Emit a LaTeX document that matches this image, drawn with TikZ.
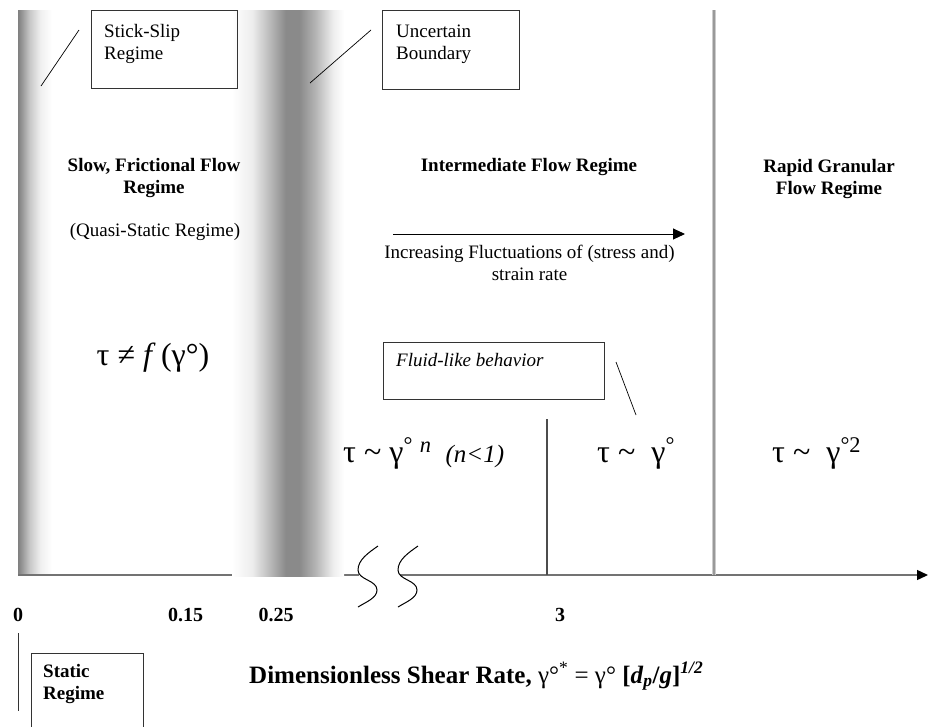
\documentclass[tikz,border=0pt]{standalone}
\usepackage{fontspec}
\setmainfont{Liberation Serif}
\usetikzlibrary{arrows.meta}
\definecolor{sA}{gray}{0.50}
\definecolor{sB}{gray}{0.56}
\definecolor{sC}{gray}{0.78}
\definecolor{sD}{gray}{0.94}
\definecolor{sE}{gray}{1}
\definecolor{sF}{gray}{0.54}
\definecolor{sG}{gray}{0.93}
\definecolor{sH}{gray}{0.70}
\definecolor{axisgray}{gray}{0.45}
\definecolor{boxgray}{gray}{0.20}
\definecolor{sepgray}{gray}{0.60}
\definecolor{seplight}{gray}{0.80}
\pgfdeclarehorizontalshading{bandone}{100bp}{color(0bp)=(sA); color(25bp)=(sA); color(29bp)=(sB); color(42bp)=(sC); color(58bp)=(sD); color(75bp)=(sE); color(100bp)=(sE)}
\pgfdeclarehorizontalshading{bandtwo}{100bp}{color(0bp)=(sE); color(25bp)=(sE); color(34bp)=(sG); color(43bp)=(sH); color(49bp)=(sF); color(55bp)=(sF); color(62bp)=(sH); color(70bp)=(sG); color(75bp)=(sE); color(100bp)=(sE)}
\newcommand{\tlc}[2]{\vtop{\halign{\hfil##\hfil\cr#1\cr#2\cr}}}
\newcommand{\tll}[2]{\vtop{\halign{##\hfil\cr#1\cr#2\cr}}}
\begin{document}
\begin{tikzpicture}[x=1pt,y=-1pt,
  txt/.style={inner sep=0pt, font=\fontsize{19}{22}\selectfont},
  btxt/.style={inner sep=0pt, font=\fontsize{19}{22}\selectfont\bfseries},
  itxt/.style={inner sep=0pt, font=\fontsize{19}{22}\selectfont\itshape},
  frm/.style={inner sep=0pt, font=\fontsize{32}{36}\selectfont},
  boxst/.style={draw=boxgray, line width=0.9pt, inner sep=0pt, anchor=north west},
  lead/.style={draw=black, line width=0.7pt},
  axnum/.style={inner sep=0pt, font=\fontsize{20}{24}\selectfont\bfseries, anchor=base},
  breakline/.style={draw=black, line width=1pt},
  axisline/.style={draw=axisgray, line width=1.4pt}
]
\useasboundingbox (0,0) rectangle (929,726);
\clip (0,0) rectangle (929,726);

% shaded bands
\shade[shading=bandone] (18,10) rectangle (52,574);
% axis
\coordinate (ax0) at (18,575);
\coordinate (axb1) at (232,575);
\coordinate (axb2) at (344,575);
\coordinate (axs1) at (359,575);
\coordinate (axs2) at (400,575);
\coordinate (axend) at (928,575);
\draw[axisline] (ax0) -- (axb1);
\draw[axisline] (axb2) -- (axs1);
\draw[axisline, -{Triangle[length=11pt,width=10pt,color=black]}] (axs2) -- (axend);
\shade[shading=bandtwo] (232,10) rectangle (344,576.5);

% break marks
\foreach \dx in {0,40}{
  \draw[breakline, xshift=\dx pt] (378,546) .. controls (368,553) and (358,560) .. (358,570)
     .. controls (358,580) and (377,580) .. (377,590)
     .. controls (377,598) and (366,602) .. (358,607);
}

% separator lines
\coordinate (sepT) at (714,10);
\coordinate (sepB) at (714,575);
\draw[draw=seplight, line width=4pt] (sepT) -- (sepB);
\draw[draw=sepgray, line width=2pt] (sepT) -- (sepB);
\coordinate (thinT) at (547,419);
\coordinate (thinB) at (547,575);
\draw[draw=black!70, line width=1.1pt] (thinT) -- (thinB);

% boxes
\node[boxst, minimum width=146pt, minimum height=78pt] (stickbox) at (91,10) {};
\node[txt, anchor=base west] (sticktxt) at (104,37) {\tll{Stick-Slip}{Regime}};
\node[boxst, minimum width=137pt, minimum height=79pt] (uncbox) at (382,10) {};
\node[txt, anchor=base west] (unctxt) at (396,37) {\tll{Uncertain}{Boundary}};
\node[boxst, minimum width=221pt, minimum height=57pt] (fluidbox) at (383,342) {};
\node[itxt, anchor=base west] (fluidtxt) at (396,366) {Fluid-like behavior};
\node[boxst, minimum width=112pt, minimum height=100pt] (statbox) at (31,653) {};
\node[btxt, anchor=base west] (stattxt) at (43,677) {\tll{Static}{Regime}};

% leader lines
\coordinate (l1a) at (41,86); \coordinate (l1b) at (79,30);
\draw[lead] (l1a) -- (l1b);
\coordinate (l2a) at (310,83); \coordinate (l2b) at (371,30);
\draw[lead] (l2a) -- (l2b);
\coordinate (l3a) at (616,362); \coordinate (l3b) at (636,415);
\draw[lead] (l3a) -- (l3b);
\coordinate (l4a) at (18,633); \coordinate (l4b) at (18,711);
\draw[draw=black!80, line width=1pt] (l4a) -- (l4b);

% regime titles
\node[btxt, anchor=base] (slow) at (154,171) {\tlc{Slow, Frictional Flow}{Regime}};
\node[txt, anchor=base] (quasi) at (155,236) {(Quasi-Static Regime)};
\node[btxt, anchor=base] (inter) at (529,171) {Intermediate Flow Regime};
\node[btxt, anchor=base] (rapid) at (829,172) {\tlc{Rapid Granular}{Flow Regime}};

% fluctuation arrow
\coordinate (arrA) at (393,234);
\coordinate (arrB) at (685,234);
\draw[line width=1pt, -{Triangle[length=12pt,width=11pt]}] (arrA) -- (arrB);
\node[txt, anchor=base] (incr) at (529.5,258) {\tlc{Increasing Fluctuations of (stress and)}{strain rate}};

% formulas
\node[frm, anchor=base] (fneq) at (153,365) {τ ≠ \textit{f}\,(γ°)};
\node[frm, anchor=base west] (ftn) at (343,462) {τ \textasciitilde\ γ\textsuperscript{°\,\,\textit{n}}\hspace{14pt}{\fontsize{25}{28}\selectfont\textit{(n<1)}}};
\node[frm, anchor=base west] (ft1) at (597,462) {τ \textasciitilde\ \ γ\textsuperscript{°}};
\node[frm, anchor=base west] (ft2) at (772,462) {τ \textasciitilde\ \ γ\textsuperscript{°2}};

% axis numbers
\node[axnum] (n0) at (18,621) {0};
\node[axnum] (n015) at (185.5,621) {0.15};
\node[axnum] (n025) at (276,621) {0.25};
\node[axnum] (n3) at (560,621) {3};

% axis label
\node[inner sep=0pt, anchor=base west, font=\fontsize{25}{29}\selectfont] (xlabel) at (249,683)
  {\textbf{Dimensionless Shear Rate,} γ°\textsuperscript{*} = γ° \textbf{[\textit{d}\textsubscript{\textit{p}}/\textit{g}]}\textsuperscript{\textbf{\textit{1/2}}}};
\end{tikzpicture}
\end{document}
